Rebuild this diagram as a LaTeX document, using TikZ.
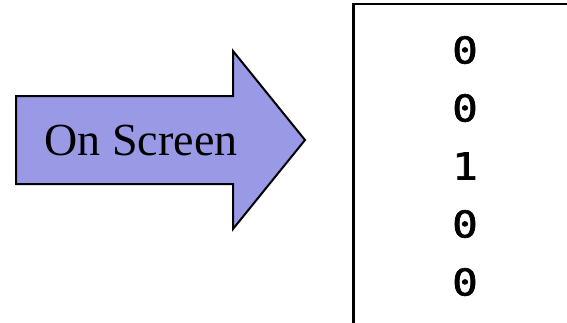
\documentclass[tikz,border=0pt]{standalone}
\usepackage{fontspec}
\setmainfont{Liberation Serif}
\newfontfamily\digitfont[FakeBold=1.6]{DejaVu Sans Mono}
\definecolor{arrowfill}{RGB}{153,153,230}
\newcommand{\widedigit}[1]{\scalebox{1.15}[1]{#1}}
\begin{document}
\begin{tikzpicture}[x=1pt,y=-1pt,
  outline/.style={draw=black, line width=2pt, line join=miter},
  bit/.style={font=\digitfont\fontsize{37}{37}\selectfont, inner sep=0pt}]
\useasboundingbox (0,0) rectangle (567,322);
% block arrow
\draw[outline, fill=arrowfill]
  (16,96) -- (233,96) -- (233,51) -- (305,140) -- (233,229) -- (233,184) -- (16,184) -- cycle;
\node[font=\fontsize{46}{46}\selectfont, inner sep=0pt] (label) at (141,140) {On Screen};
% output column (box runs off the page)
\coordinate (boxtl) at (353.5,4);
\draw[line width=2.6pt] (353.5,323) -- (boxtl) -- (568,4);
\node[bit] (b1) at (465,50) {\widedigit{0}};
\node[bit] (b2) at (465,108) {\widedigit{0}};
\node[bit] (b3) at (465,166) {\widedigit{1}};
\node[bit] (b4) at (465,224) {\widedigit{0}};
\node[bit] (b5) at (465,282) {\widedigit{0}};
\end{tikzpicture}
\end{document}
